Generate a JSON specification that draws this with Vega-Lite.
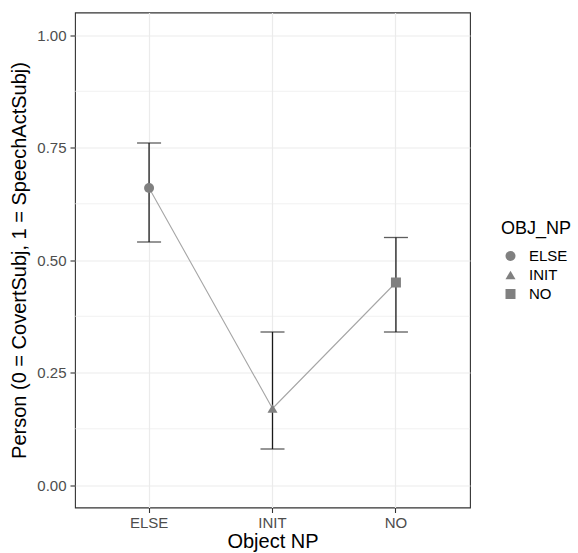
{
  "$schema": "https://vega.github.io/schema/vega-lite/v6.json",
  "autosize": {"type": "none"},
  "width": 395,
  "height": 495,
  "padding": {"left": 75, "top": 12.5, "right": 108, "bottom": 45.5},
  "background": "white",
  "config": {
    "font": "Liberation Sans",
    "view": {"stroke": "#333333", "strokeWidth": 1.1},
    "axis": {
      "domain": false,
      "tickColor": "#333333",
      "tickSize": 5,
      "tickWidth": 1.1,
      "labelColor": "#4d4d4d",
      "labelFontSize": 15,
      "labelPadding": 4,
      "titleFontSize": 20,
      "titleFontWeight": "normal",
      "titleColor": "#000000",
      "gridColor": "#ebebeb",
      "gridWidth": 1.2
    }
  },
  "data": {
    "values": [
      {"OBJ_NP": "ELSE", "mean": 0.66, "lo": 0.54, "hi": 0.76},
      {"OBJ_NP": "INIT", "mean": 0.17, "lo": 0.08, "hi": 0.34},
      {"OBJ_NP": "NO", "mean": 0.45, "lo": 0.34, "hi": 0.55}
    ]
  },
  "encoding": {
    "x": {
      "field": "OBJ_NP",
      "type": "nominal",
      "scale": {"paddingInner": 0, "paddingOuter": 0.1},
      "axis": {"title": "Object NP", "labelAngle": 0, "labelPadding": 3, "titlePadding": 1, "grid": true, "bandPosition": 0.5}
    }
  },
  "layer": [
    {
      "mark": {"type": "rule", "color": "#ebebeb", "strokeWidth": 0.7},
      "data": {"values": [{"v": 0.125}, {"v": 0.375}, {"v": 0.625}, {"v": 0.875}]},
      "encoding": {
        "x": null,
        "y": {"field": "v", "type": "quantitative"}
      }
    },
    {
      "mark": {"type": "line", "color": "#a6a6a6", "strokeWidth": 1.1},
      "encoding": {
        "y": {
          "field": "mean",
          "type": "quantitative",
          "scale": {"domain": [-0.05, 1.05], "nice": false, "zero": false},
          "axis": {
            "title": "Person (0 = CovertSubj, 1 = SpeechActSubj)",
            "values": [0, 0.25, 0.5, 0.75, 1],
            "format": ".2f",
            "titlePadding": 7
          }
        }
      }
    },
    {
      "mark": {"type": "rule", "color": "#1a1a1a", "strokeWidth": 1.3},
      "encoding": {
        "y": {"field": "lo", "type": "quantitative"},
        "y2": {"field": "hi"}
      }
    },
    {
      "mark": {"type": "tick", "color": "#1a1a1a", "thickness": 1.3, "size": 24, "orient": "horizontal"},
      "encoding": {"y": {"field": "lo", "type": "quantitative"}}
    },
    {
      "mark": {"type": "tick", "color": "#1a1a1a", "thickness": 1.3, "size": 24, "orient": "horizontal"},
      "encoding": {"y": {"field": "hi", "type": "quantitative"}}
    },
    {
      "mark": {"type": "point", "filled": true, "color": "#808080", "opacity": 1, "size": 100},
      "encoding": {
        "y": {"field": "mean", "type": "quantitative"},
        "shape": {
          "field": "OBJ_NP",
          "type": "nominal",
          "scale": {"range": ["circle", "triangle-up", "square"]},
          "legend": {
            "title": "OBJ_NP",
            "orient": "none",
            "legendX": 426,
            "legendY": 207,
            "padding": 0,
            "titleFontSize": 18,
            "titleFontWeight": "normal",
            "titleColor": "#000000",
            "titlePadding": 11,
            "labelFontSize": 15,
            "labelColor": "#000000",
            "labelOffset": 11,
            "symbolSize": 100,
            "symbolOffset": 2,
            "symbolFillColor": "#808080",
            "symbolStrokeWidth": 0,
            "rowPadding": 3
          }
        }
      }
    }
  ]
}
